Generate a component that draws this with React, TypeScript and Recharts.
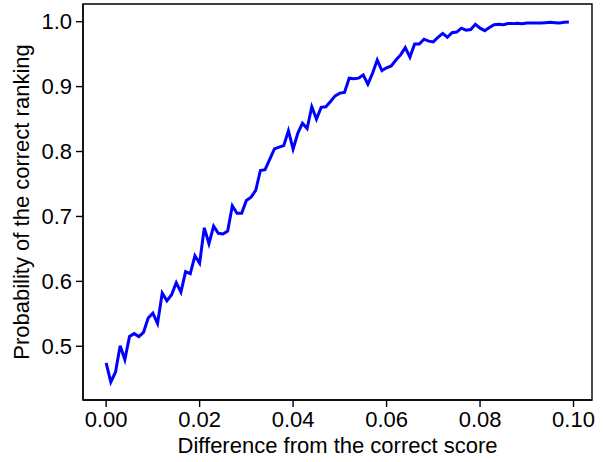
import { LineChart, Line, XAxis, YAxis, Label, ReferenceArea } from "recharts";

// probability of getting the ranking right, one reading per 0.001 step of score difference
const STEP = 0.001;

const probability = [
  0.4745, 0.445, 0.46, 0.501, 0.4795, 0.515, 0.5195, 0.515, 0.5215, 0.5435,
  0.551, 0.535, 0.582, 0.57, 0.5795, 0.598, 0.5835, 0.615, 0.612, 0.6395,
  0.628, 0.6825, 0.658, 0.685, 0.674, 0.673, 0.6775, 0.7165, 0.705, 0.705,
  0.7246, 0.7298, 0.74, 0.7708, 0.772, 0.788, 0.804, 0.8067, 0.809, 0.832,
  0.8037, 0.828, 0.8437, 0.8355, 0.869, 0.85, 0.868, 0.869, 0.877, 0.8857,
  0.89, 0.891, 0.913, 0.912, 0.913, 0.918, 0.9037, 0.9206, 0.941, 0.9246,
  0.929, 0.9318, 0.941, 0.9488, 0.96, 0.9455, 0.9655, 0.9655, 0.973, 0.97,
  0.9688, 0.976, 0.982, 0.976, 0.983, 0.984, 0.99, 0.987, 0.988, 0.996,
  0.99, 0.9862, 0.991, 0.9954, 0.996, 0.9954, 0.997, 0.997, 0.9975, 0.997,
  0.998, 0.998, 0.998, 0.998, 0.9985, 0.999, 0.9985, 0.998, 0.999, 0.9995,
];

const xTicks = [0, 0.02, 0.04, 0.06, 0.08, 0.1];
const yTicks = [0.5, 0.6, 0.7, 0.8, 0.9, 1.0];

const data = probability.map((p, i) => ({ diff: i * STEP, p }));

// matplotlib-ish 5% margins
const xMin = 0, xMax = (probability.length - 1) * STEP;
const yMin = Math.min(...probability), yMax = Math.max(...probability);
const xPad = (xMax - xMin) * 0.05;
const yPad = (yMax - yMin) * 0.05;
const xDomain = [xMin - xPad, xMax + xPad];
const yDomain = [yMin - yPad, yMax + yPad];

const font = { fontFamily: "Liberation Sans, Arial, sans-serif", fontSize: 22, fill: "#000" };
const axisLine = { stroke: "#000", strokeWidth: 1.4 };

export default function App() {
  return (
    <div style={{ position: "absolute", left: 0, top: 0, background: "#fff" }}>
      <LineChart
        width={603}
        height={462}
        data={data}
        margin={{ top: 4, right: 11, bottom: 0, left: 0 }}
      >
        <XAxis
          dataKey="diff"
          type="number"
          domain={xDomain}
          allowDataOverflow
          ticks={xTicks}
          tickFormatter={(v) => v.toFixed(2)}
          tick={font}
          tickSize={7}
          tickMargin={4}
          tickLine={axisLine}
          axisLine={axisLine}
          height={62}
          interval={0}
        >
          <Label
            value="Difference from the correct score"
            position="insideBottom"
            offset={9}
            style={font}
          />
        </XAxis>
        <YAxis
          type="number"
          domain={yDomain}
          allowDataOverflow
          ticks={yTicks}
          tickFormatter={(v) => v.toFixed(1)}
          tick={font}
          tickSize={7}
          tickMargin={4}
          tickLine={axisLine}
          axisLine={axisLine}
          width={83}
          interval={0}
        >
          <Label
            value="Probability of the correct ranking"
            angle={-90}
            position="insideLeft"
            offset={21}
            style={{ ...font, textAnchor: "middle" }}
          />
        </YAxis>
        {/* frame: top and right spines */}
        <ReferenceArea
          x1={xDomain[0]}
          x2={xDomain[1]}
          y1={yDomain[0]}
          y2={yDomain[1]}
          fill="none"
          stroke="#000"
          strokeWidth={1.4}
          ifOverflow="visible"
        />
        <Line
          dataKey="p"
          stroke="#0000ff"
          strokeWidth={3}
          dot={false}
          activeDot={false}
          isAnimationActive={false}
        />
      </LineChart>
    </div>
  );
}
